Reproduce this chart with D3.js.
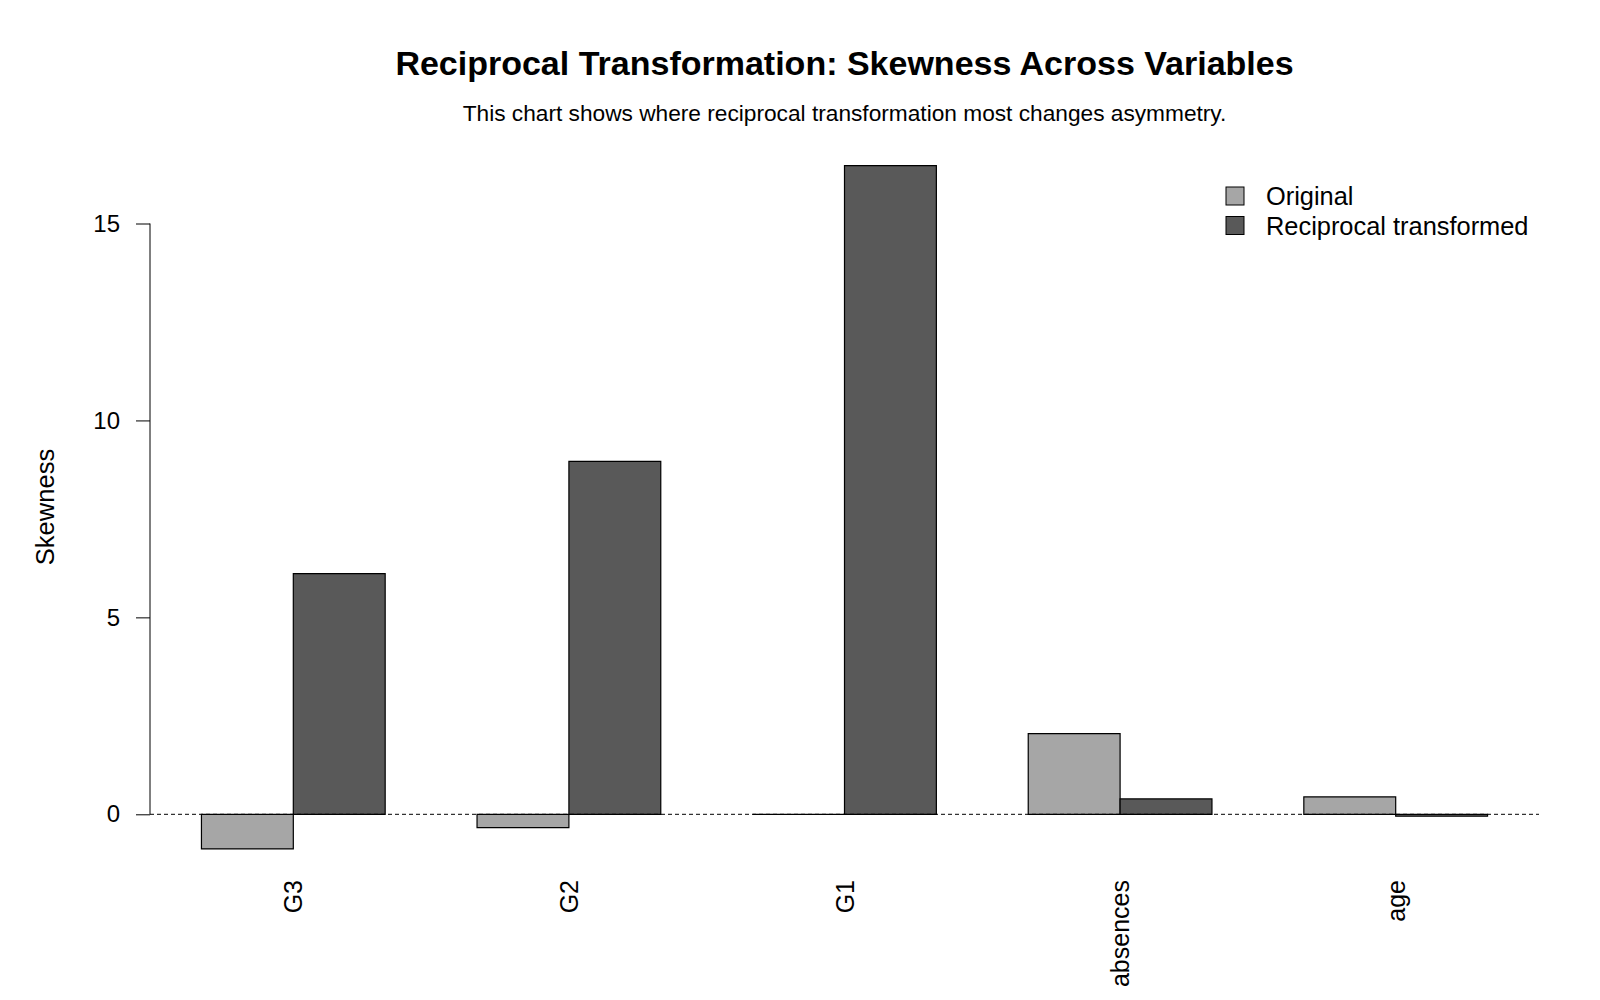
<!DOCTYPE html>
<html>
<head>
<meta charset="utf-8">
<script src="https://cdnjs.cloudflare.com/ajax/libs/d3/7.8.5/d3.min.js"></script>
<style>
  body { margin: 0; background: #fff; }
  svg { font-family: Arial, "Liberation Sans", sans-serif; }
</style>
</head>
<body>
<div class="chartDiv"></div>
<script>
// data
const variables = ["G3", "G2", "G1", "absences", "age"];
const seriesNames = ["Original", "Reciprocal transformed"];
const originalSkew = [-0.88, -0.34, 0.0, 2.05, 0.44];
const reciprocalSkew = [6.11, 8.96, 16.47, 0.39, -0.05];
const yTicks = [0, 5, 10, 15];

const chartWidth = 1600;
const chartHeight = 1000;

const fillColors = ["#a6a6a6", "#595959"];

const svg = d3.select('.chartDiv')
    .append('svg')
    .attr('width', chartWidth)
    .attr('height', chartHeight);

// barplot(beside = TRUE) layout: each group has one unit of space, then two bars
const groupSpace = 1;
const barsPerGroup = 2;
const groupStep = groupSpace + barsPerGroup;
const xMin = groupSpace;
const xMax = variables.length * groupStep;
const xPad = (xMax - xMin) * 0.04;

const x = d3.scaleLinear()
    .domain([xMin - xPad, xMax + xPad])
    .range([150, 1539]);

const y = d3.scaleLinear()
    .domain([0, 15])
    .range([814.3, 223.5]);

const plotCenter = (x.range()[0] + x.range()[1]) / 2;

// titles
svg.append('text')
    .attr('x', plotCenter)
    .attr('y', 75)
    .attr('text-anchor', 'middle')
    .style('font-size', '34px')
    .style('font-weight', 'bold')
    .text('Reciprocal Transformation: Skewness Across Variables');

svg.append('text')
    .attr('x', plotCenter)
    .attr('y', 121)
    .attr('text-anchor', 'middle')
    .style('font-size', '22.7px')
    .text('This chart shows where reciprocal transformation most changes asymmetry.');

// y axis
const yAxis = d3.axisLeft(y)
    .tickValues(yTicks)
    .tickSize(14)
    .tickPadding(16)
    .tickFormat(d3.format('d'));

const yAxisG = svg.append('g')
    .attr('transform', `translate(${x.range()[0]},0)`)
    .call(yAxis);

yAxisG.select('.domain')
    .attr('d', `M0,${y(15)}V${y(0)}`)
    .attr('stroke', 'black');
yAxisG.selectAll('.tick line').attr('stroke', 'black');
yAxisG.selectAll('.tick text')
    .style('font-size', '24px')
    .attr('fill', 'black')
    .attr('font-family', 'Arial, "Liberation Sans", sans-serif');

svg.append('text')
    .attr('transform', 'translate(54,507) rotate(-90)')
    .attr('text-anchor', 'middle')
    .style('font-size', '25.6px')
    .text('Skewness');

// bars
const barData = [];
variables.forEach((v, i) => {
    [originalSkew[i], reciprocalSkew[i]].forEach((val, j) => {
        barData.push({variable: v, series: j, value: val, left: xMin + i * groupStep + j});
    });
});

svg.selectAll('path.bar')
    .data(barData)
    .enter()
    .append('path')
    .attr('class', 'bar')
    .attr('d', d => {
        const x0 = x(d.left), x1 = x(d.left + 1);
        const y0 = y(0), y1 = y(d.value);
        return `M${x0},${y0}H${x1}V${y1}H${x0}Z`;
    })
    .attr('fill', d => fillColors[d.series])
    .attr('stroke', 'black')
    .attr('stroke-width', 1.2);

// zero reference line
svg.append('line')
    .attr('x1', x.range()[0])
    .attr('x2', x.range()[1])
    .attr('y1', y(0))
    .attr('y2', y(0))
    .attr('stroke', 'black')
    .attr('stroke-width', 1)
    .attr('stroke-dasharray', '4,3');

// category labels, rotated
svg.selectAll('text.xlab')
    .data(variables)
    .enter()
    .append('text')
    .attr('class', 'xlab')
    .attr('transform', (d, i) => {
        const cx = x(xMin + i * groupStep + barsPerGroup / 2);
        return `translate(${cx + 9},880) rotate(-90)`;
    })
    .attr('text-anchor', 'end')
    .style('font-size', '25px')
    .text(d => d);

// legend
const legendG = svg.append('g')
    .attr('transform', 'translate(1226,0)');

seriesNames.forEach((name, i) => {
    const cy = 196 + i * 29.5;
    legendG.append('rect')
        .attr('x', 0)
        .attr('y', cy - 9)
        .attr('width', 18)
        .attr('height', 18)
        .attr('fill', fillColors[i])
        .attr('stroke', 'black')
        .attr('stroke-width', 1);
    legendG.append('text')
        .attr('x', 40)
        .attr('y', cy + 9)
        .style('font-size', '25.4px')
        .text(name);
});
</script>
</body>
</html>
